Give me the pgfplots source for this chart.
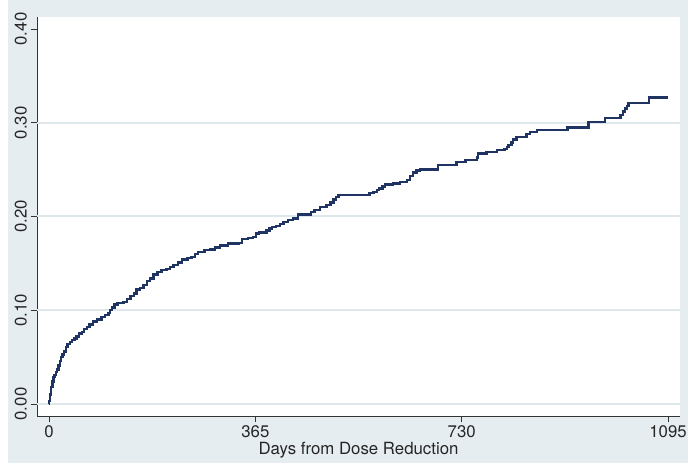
\documentclass[border=0pt]{standalone}
\usepackage{pgfplots}
\pgfplotsset{compat=1.18}
\usepackage{fontspec}
\setmainfont{TeX Gyre Heros}
\definecolor{bgc}{RGB}{230,237,240}
\definecolor{gridc}{RGB}{222,231,236}
\definecolor{navyc}{RGB}{32,52,100}
\begin{document}
\begin{tikzpicture}[x=1pt,y=1pt]
\useasboundingbox (0,0) rectangle (688,463);
\fill[bgc] (8,0) rectangle (688,463);
\begin{axis}[
  at={(37pt,47pt)}, anchor=south west,
  scale only axis, width=643pt, height=399pt,
  xmin=-21.2, xmax=1116.2, ymin=-0.0128, ymax=0.4128,
  axis x line*=bottom, axis y line*=left,
  axis line style={-, line width=0.9pt, black!80},
  axis background/.style={fill=white},
  xtick={0,365,730,1095},
  ytick={0,0.1,0.2,0.3,0.4},
  tick align=outside, major tick length=6.5pt,
  tick style={line width=0.9pt, black!80},
  minor tick num=0,
  /pgf/number format/assume math mode=true,
  ticklabel style={font=\fontsize{16.8}{20}\selectfont, text=black!85},
  yticklabel style={rotate=90, anchor=south, /pgf/number format/.cd, fixed, fixed zerofill, precision=2},
  xticklabel style={anchor=north, /pgf/number format/.cd, 1000 sep={}},
  scaled y ticks=false,
  extra y ticks={0,0.1,0.2,0.3},
  extra y tick labels={},
  extra y tick style={grid=major, major tick length=0pt},
  major grid style={gridc, line width=2pt},
  xlabel={Days from Dose Reduction},
  xlabel style={font=\fontsize{16.8}{20}\selectfont, text=black!85, yshift=3pt},
  clip=false,
]
\addplot[const plot, navyc, line width=2.4pt] coordinates {
(0,0) (0.5,0.003) (2,0.010) (4,0.018) (6,0.024) (8,0.029) (10,0.031) (12,0.034)
(14,0.037) (17,0.041) (19,0.046) (21,0.050) (24,0.053) (27,0.056) (30,0.061)
(33,0.064) (37,0.066) (41,0.068) (45,0.070) (49,0.072) (53,0.075) (58,0.077)
(62,0.080) (67,0.082) (72,0.085) (78,0.088) (85,0.090) (93,0.093) (99,0.095)
(105,0.097) (108,0.100) (111,0.103) (116,0.106) (121,0.108) (132,0.109)
(138,0.112) (144,0.115) (150,0.118) (155,0.122) (161,0.124) (167,0.127)
(173,0.131) (179,0.134) (185,0.138) (192,0.141) (199,0.143) (208,0.144)
(214,0.146) (220,0.148) (228,0.151) (235,0.154) (245,0.156) (252,0.157)
(258,0.160) (264,0.162) (275,0.164) (285,0.165) (294,0.167) (303,0.169)
(317,0.171) (335,0.172) (341,0.176) (352,0.177) (361,0.178) (366,0.182)
(371,0.183) (385,0.185) (390,0.187) (394,0.189) (402,0.190) (409,0.192)
(415,0.194) (423,0.196) (432,0.198) (441,0.202) (464,0.205) (470,0.207)
(479,0.210) (491,0.212) (498,0.215) (503,0.218) (508,0.221) (512,0.223)
(567,0.225) (574,0.226) (580,0.228) (584,0.230) (590,0.232) (594,0.234)
(609,0.235) (621,0.237) (633,0.239) (639,0.243) (644,0.247) (650,0.249)
(656,0.250) (688,0.255) (721,0.258) (737,0.260) (757,0.263) (759,0.267)
(774,0.269) (792,0.271) (806,0.272) (810,0.274) (813,0.276) (818,0.279)
(821,0.282) (827,0.285) (845,0.288) (851,0.290) (863,0.292) (917,0.295)
(954,0.301) (984,0.305) (1011,0.308) (1015,0.312) (1019,0.315) (1022,0.318)
(1025,0.321) (1061,0.327) (1095,0.327)
};
\end{axis}
\end{tikzpicture}
\end{document}
